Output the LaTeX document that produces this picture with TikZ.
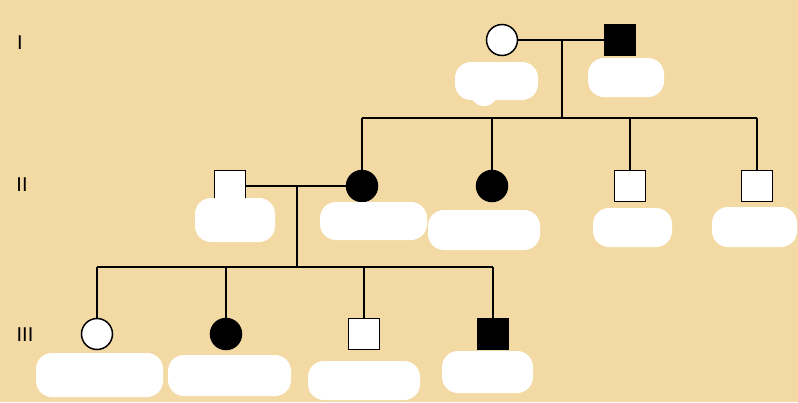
\documentclass[tikz,border=0pt]{standalone}
\usepackage{fontspec}
\setmainfont{Liberation Sans}
\begin{document}
\begin{tikzpicture}[x=1pt,y=-1pt,
  m/.style={draw,line width=1.5pt,fill=white,minimum size=31pt,inner sep=0pt,rectangle},
  f/.style={draw,line width=1.5pt,fill=white,minimum size=31pt,inner sep=0pt,circle},
  aff/.style={fill=black},
  ln/.style={line width=1.5pt},
  blob/.style={fill=white,rounded corners=16pt},
  gen/.style={font=\fontsize{20}{22}\selectfont}]
\definecolor{bg}{HTML}{F3DAA5}
\fill[bg] (0,0) rectangle (798,402);
\useasboundingbox (0,0) rectangle (798,402);
\node[gen] (g1) at (20,43) {I};
\node[gen] (g2) at (22,185) {II};
\node[gen] (g3) at (25,335) {III};
% generation I
\node[f] (i1) at (502,40) {};
\node[m,aff] (i2) at (620,40) {};
\coordinate (c1) at (562,40);
\coordinate (c1b) at (562,118);
\draw[ln] (i1) -- (i2);
\draw[ln] (c1) -- (c1b);
\coordinate (s1l) at (362,118);
\coordinate (s1r) at (757,118);
\draw[ln] (s1l) -- (s1r);
% generation II
\node[m] (ii0) at (230,186) {};
\node[f,aff] (ii1) at (362,186) {};
\node[f,aff] (ii2) at (492,186) {};
\node[m] (ii3) at (630,186) {};
\node[m] (ii4) at (757,186) {};
\draw[ln] (s1l) -- (ii1);
\draw[ln] (492,118) -- (ii2);
\draw[ln] (630,118) -- (ii3);
\draw[ln] (s1r) -- (ii4);
\draw[ln] (ii0) -- (ii1);
\coordinate (c2) at (297,186);
\coordinate (c2b) at (297,267);
\draw[ln] (c2) -- (c2b);
\coordinate (s2l) at (97,267);
\coordinate (s2r) at (493,267);
\draw[ln] (s2l) -- (s2r);
% generation III
\node[f] (iii1) at (97,334) {};
\node[f,aff] (iii2) at (226,334) {};
\node[m] (iii3) at (364,334) {};
\node[m,aff] (iii4) at (493,334) {};
\draw[ln] (s2l) -- (iii1);
\draw[ln] (226,267) -- (iii2);
\draw[ln] (364,267) -- (iii3);
\draw[ln] (s2r) -- (iii4);
% redaction blobs
\fill[blob] (455,62) rectangle (538,100);
\fill[white] (484,92) circle (14);
\fill[blob] (588,58) rectangle (664,97);
\fill[blob] (195,198) rectangle (275,242);
\fill[blob] (320,202) rectangle (427,240);
\fill[blob] (428,210) rectangle (540,250);
\fill[blob] (593,208) rectangle (672,247);
\fill[blob] (712,207) rectangle (797,247);
\fill[blob] (36,353) rectangle (163,397);
\fill[blob] (168,355) rectangle (291,396);
\fill[blob] (308,361) rectangle (420,400);
\fill[blob] (442,351) rectangle (533,393);
\end{tikzpicture}
\end{document}
